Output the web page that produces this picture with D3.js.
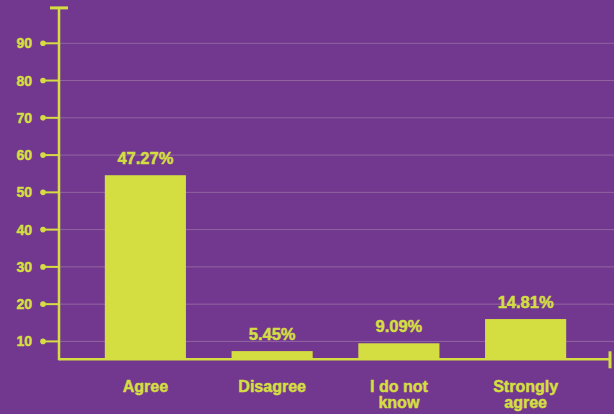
<!DOCTYPE html>
<html>
<head>
<meta charset="utf-8">
<script src="https://cdn.jsdelivr.net/npm/d3@7"></script>
<style>
  html, body { margin: 0; padding: 0; background: #72378f; }
  svg { display: block; }
  text { font-family: "Liberation Sans", Arial, sans-serif; font-weight: bold; fill: #d5de41;
         stroke: #d5de41; stroke-width: 0.5; }
</style>
</head>
<body>
<div id="chart"></div>
<script>
// categories + values
const categories = ["Agree", "Disagree", "I do not know", "Strongly agree"];
const categoryLines = [["Agree"], ["Disagree"], ["I do not", "know"], ["Strongly", "agree"]];
const barValues = [54.6, 7.4, 9.5, 16.0];
const valueLabels = ["47.27%", "5.45%", "9.09%", "14.81%"];
const yTicks = [10, 20, 30, 40, 50, 60, 70, 80, 90];

const width = 614, height = 414;
const yellow = "#d5de41";
const axisMin = 5.2, axisMax = 99.5;

const svg = d3.select("#chart")
  .append("svg")
    .attr("width", width)
    .attr("height", height);

svg.append("rect")
  .attr("width", width)
  .attr("height", height)
  .attr("fill", "#72378f");

const x = d3.scaleBand()
  .domain(categories)
  .range([82, 589])
  .paddingInner(0.36)
  .paddingOuter(0.18);

const y = d3.scaleLinear()
  .domain([axisMin, 90])
  .range([359.3, 43.3]);

const axisX = 59;

// grid lines
svg.append("g")
  .selectAll("line")
  .data(yTicks)
  .join("line")
    .attr("x1", axisX)
    .attr("x2", width)
    .attr("y1", d => y(d))
    .attr("y2", d => y(d))
    .attr("stroke", "#a07aa8")
    .attr("stroke-opacity", 0.7)
    .attr("stroke-width", 1);

// bars
svg.append("g")
  .selectAll("rect")
  .data(barValues)
  .join("rect")
    .attr("x", (d, i) => x(categories[i]))
    .attr("y", d => y(d))
    .attr("width", x.bandwidth())
    .attr("height", d => y(axisMin) - y(d))
    .attr("fill", yellow);

// value labels
svg.append("g")
  .selectAll("text")
  .data(barValues)
  .join("text")
    .attr("x", (d, i) => x(categories[i]) + x.bandwidth() / 2)
    .attr("y", d => y(d) - 11)
    .attr("text-anchor", "middle")
    .attr("font-size", 16.5)
    .text((d, i) => valueLabels[i]);

// y axis: line, top cap, ticks with dots
svg.append("line")
  .attr("x1", axisX).attr("x2", axisX)
  .attr("y1", y(axisMax)).attr("y2", y(axisMin) + 1)
  .attr("stroke", yellow).attr("stroke-width", 2.5);
svg.append("line")
  .attr("x1", axisX - 9).attr("x2", axisX + 9)
  .attr("y1", y(axisMax)).attr("y2", y(axisMax))
  .attr("stroke", yellow).attr("stroke-width", 3);

const tick = svg.append("g")
  .selectAll("g")
  .data(yTicks)
  .join("g")
    .attr("transform", d => `translate(0,${y(d)})`);
tick.append("line")
  .attr("x1", 43).attr("x2", axisX)
  .attr("stroke", yellow).attr("stroke-width", 2);
tick.append("circle")
  .attr("cx", 43).attr("r", 2.8)
  .attr("fill", yellow);
tick.append("text")
  .attr("x", 32)
  .attr("dy", "0.36em")
  .attr("text-anchor", "end")
  .attr("font-size", 14)
  .text(d => d);

// x axis with right cap
svg.append("line")
  .attr("x1", axisX).attr("x2", 610)
  .attr("y1", y(axisMin)).attr("y2", y(axisMin))
  .attr("stroke", yellow).attr("stroke-width", 2.5);
svg.append("line")
  .attr("x1", 610).attr("x2", 610)
  .attr("y1", y(axisMin) - 8).attr("y2", y(axisMin) + 9)
  .attr("stroke", yellow).attr("stroke-width", 3);

// category labels
const cat = svg.append("g")
  .selectAll("text")
  .data(categories)
  .join("text")
    .attr("text-anchor", "middle")
    .attr("font-size", 16)
    .attr("transform", d => `translate(${x(d) + x.bandwidth() / 2},392)`);
cat.selectAll("tspan")
  .data((d, i) => categoryLines[i])
  .join("tspan")
    .attr("x", 0)
    .attr("y", (d, i) => i * 15.5)
    .text(d => d);
</script>
</body>
</html>
